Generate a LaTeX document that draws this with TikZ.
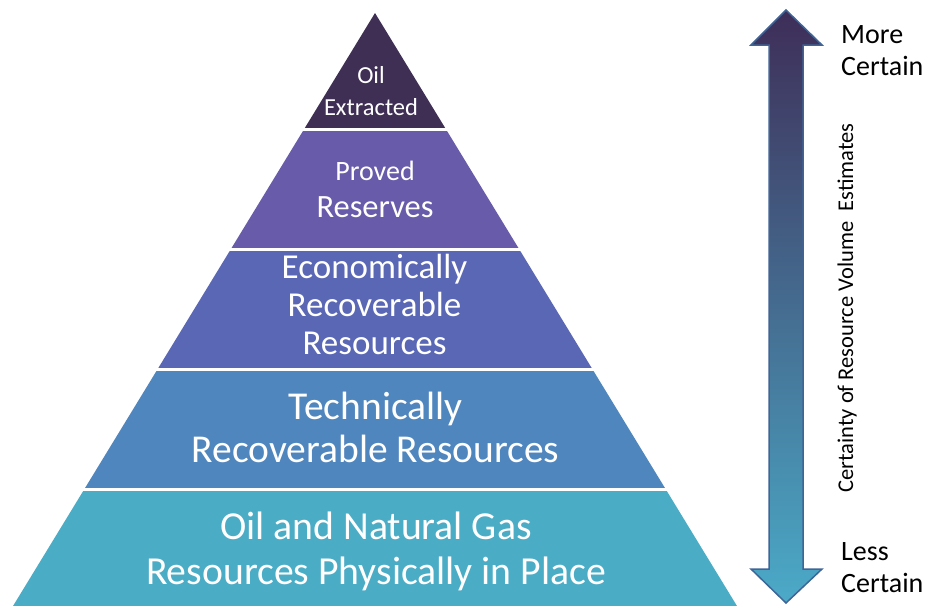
\documentclass[tikz,border=0pt]{standalone}
\usepackage{fontspec}
\setmainfont{Carlito}
\usepackage{tikz}
\usetikzlibrary{positioning}
\definecolor{extractedfill}{RGB}{63,47,85}
\definecolor{provedfill}{RGB}{104,91,170}
\definecolor{econfill}{RGB}{90,103,180}
\definecolor{techfill}{RGB}{80,134,190}
\definecolor{placefill}{RGB}{75,172,198}
\definecolor{arrowedge}{RGB}{64,100,150}
\definecolor{arrowtop}{RGB}{62,46,88}
\definecolor{arrowmid}{RGB}{61,100,160}
\definecolor{arrowbot}{RGB}{75,170,200}
\tikzstyle{layertext} = [align=center,
					  text=white,
					  inner sep=0pt,
					 ]
\tikzstyle{sidetext} = [align=left,
					  text=black,
					  anchor=west,
					  inner sep=0pt,
					  font=\fontsize{28}{32}\selectfont,
					 ]
\tikzstyle{bigarrow} = [draw=arrowedge,
					  line width=1.5pt,
					  top color=arrowtop,
					  middle color=arrowmid,
					  bottom color=arrowbot,
					 ]

\begin{document}
\begin{tikzpicture}[x=1pt, y=-1pt]
\useasboundingbox (0,0) rectangle (929,606);

% pyramid bands
\begin{scope}
\clip (375,13) -- (737,606) -- (13,606) -- cycle;
\fill [extractedfill] (0,0) rectangle (929,128);
\fill [provedfill] (0,131) rectangle (929,248);
\fill [econfill] (0,251) rectangle (929,368);
\fill [techfill] (0,371) rectangle (929,488);
\fill [placefill] (0,491) rectangle (929,606);
\end{scope}

\node (oil) [layertext, font=\fontsize{24.5}{32}\selectfont] at (371,91) {Oil\\Extracted};
\node (proved) [layertext, font=\fontsize{32.5}{37}\selectfont] at (375,189) {{\fontsize{28}{28}\selectfont Proved}\\Reserves};
\node (econ) [layertext, font=\fontsize{35}{38}\selectfont] at (374.5,304.5) {Economically\\Recoverable\\Resources};
\node (tech) [layertext, font=\fontsize{39.5}{43}\selectfont] at (375.5,427.5) {Technically\\Recoverable Resources};
\node (inplace) [layertext, font=\fontsize{39.7}{45}\selectfont] at (376,551) {Oil and Natural Gas\\Resources Physically in Place};

% certainty arrow
\path [bigarrow] (786,10) -- (822,45) -- (803,45) -- (803,569) -- (822,569) -- (786,603) -- (751,569) -- (769,569) -- (769,45) -- (751,45) -- cycle;

\node (more) [sidetext] at (841,50.7) {More\\Certain};
\node (less) [sidetext] at (841,567.7) {Less\\Certain};
\node (certainty) [rotate=90, inner sep=0pt, font=\fontsize{22.5}{26}\selectfont] at (847,308) {Certainty of Resource Volume~ Estimates};

\end{tikzpicture}
\end{document}
